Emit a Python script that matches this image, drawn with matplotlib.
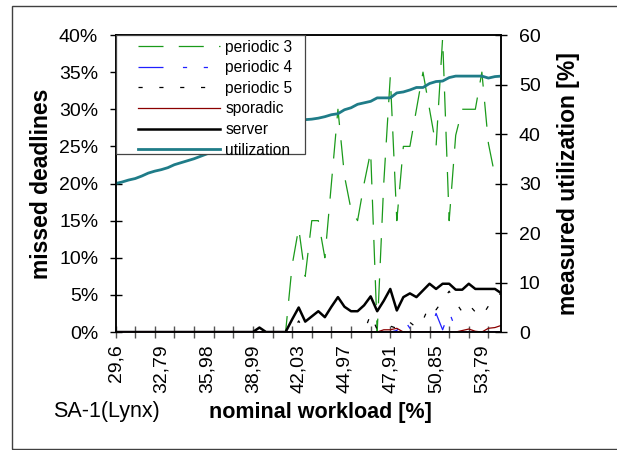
import matplotlib
matplotlib.use('Agg')
import matplotlib.pyplot as plt
from matplotlib.patches import Rectangle
from matplotlib.ticker import PercentFormatter, MultipleLocator

plt.rcParams['font.family'] = ['Liberation Sans', 'DejaVu Sans']
plt.rcParams['lines.scale_dashes'] = False

# category axis: 60 workload steps, only every 7th one is labelled
x_labels = ['29,6', '32,79', '35,98', '38,99', '42,03', '44,97', '47,91', '50,85', '53,79']
label_idx = [0, 7, 14, 21, 28, 35, 42, 49, 56]

# missed deadlines [%]
periodic3 = [0] * 26 + [0, 9, 14, 7.5, 15, 15, 10, 20, 30, 21, 16.5, 15, 20, 24.3, 0, 20, 34.4, 15,
                        25, 25, 30, 35, 30, 25, 39.6, 15, 26.5, 30, 30, 30, 35, 25.4, 21, 21]
periodic4 = [0] * 43 + [0.2, 1.8, 0.5, 0, 0, 0, 2.5, 0.3, 2.7, 0.4, 0, 0, 0, 0, 0, 0, 0]
periodic5 = [0] * 28 + [1.5] + [0] * 10 + [2.4, 0.3, 0.2, 0.8, 0.5, 0.8, 1.3, 0.6, 1.6, 3.6, 3.0,
                                          4.2, 5.5, 4.0, 2.7, 3.7, 2.7, 2.1, 3.5, 4.8, 5.2]
sporadic = [0] * 41 + [0.3, 0.3, 0.5, 0, 0, 0, 0, 0, 0, 0, 0, 0, 0.2, 0.4, 0.1, 0, 0.5, 0.6, 0.9]
server = [0] * 22 + [0.6, 0, 0, 0, 0, 1.7, 3.3, 1.4, 2.1, 2.8, 2.0, 3.4, 4.7, 3.4, 2.8, 2.8, 3.6, 4.8,
                     2.8, 4.2, 5.8, 2.9, 4.7, 5.2, 4.7, 5.6, 6.5, 5.8, 6.5, 6.5, 5.7, 5.7, 6.5, 5.8,
                     5.8, 5.8, 5.8, 5.2]
other = [0] * 60

# measured utilization [%] (right axis)
utilization = [30.0, 30.3, 30.7, 31.0, 31.5, 32.1, 32.5, 32.8, 33.2, 33.8,
               34.2, 34.6, 35.0, 35.5, 36.0, 36.5, 37.0, 37.5, 38.0, 38.5,
               39.0, 39.5, 40.0, 40.5, 41.0, 41.5, 42.0, 42.4, 42.7, 42.9,
               43.0, 43.2, 43.5, 43.9, 44.1, 44.9, 45.3, 46.0, 46.3, 46.6,
               47.3, 47.3, 47.3, 48.3, 48.5, 48.9, 49.4, 49.4, 50.2, 50.6,
               50.7, 51.4, 51.7, 51.7, 51.7, 51.7, 51.7, 51.3, 51.6, 51.7]

x = list(range(len(utilization)))

fig = plt.figure(figsize=(6.17, 4.5), dpi=100)
ax = fig.add_axes([0.1872, 0.2622, 0.6256, 0.66])
ax2 = ax.twinx()

l3, = ax.plot(x, periodic3, color='#1a9a1a', lw=0.9, ls=(0, (18, 11)), label='periodic 3')
l6, = ax.plot(x, server, color='black', lw=1.8, label='server')
ax.plot(x, other, color='#ff00ff', lw=1.3)
l4, = ax.plot(x, periodic4, color='#2020ff', lw=0.9, ls=(0, (18, 14, 3, 12, 3, 12)), label='periodic 4')
l5, = ax.plot(x, periodic5, color='black', lw=0.9, ls=(0, (3, 12)), label='periodic 5')
ls, = ax.plot(x, sporadic, color='#8b0000', lw=0.9, label='sporadic')
lu, = ax2.plot(x, utilization, color='#1f7c88', lw=2.0, label='utilization')

ax.set_xlim(0, len(x) - 1)
ax.set_ylim(0, 40)
ax2.set_ylim(0, 60)
ax.yaxis.set_major_locator(MultipleLocator(5))
ax.yaxis.set_major_formatter(PercentFormatter(decimals=0))
ax2.yaxis.set_major_locator(MultipleLocator(10))

ax.xaxis.remove_overlapping_locs = False
ax.set_xticks(range(0, len(x), 3))
ax.set_xticklabels([])
ax.set_xticks(label_idx, minor=True)
ax.set_xticklabels(x_labels, minor=True, rotation=90)
ax.tick_params(axis='x', which='major', direction='inout', length=8, width=1, color='#555555')
ax.tick_params(axis='x', which='minor', length=0, pad=9, labelsize=14)
ax.tick_params(axis='y', direction='inout', length=9, width=1, pad=8, labelsize=14)
ax2.tick_params(axis='y', direction='inout', length=9, width=1, pad=8, labelsize=14)

for a in (ax, ax2):
    for sp in a.spines.values():
        sp.set_linewidth(1.1)

ax.set_ylabel('missed deadlines', fontsize=16.5, fontweight='bold')
ax.yaxis.set_label_coords(-0.162, 0.5)
ax2.set_ylabel('measured utilization [%]', fontsize=16.5, fontweight='bold')
ax2.yaxis.set_label_coords(1.145, 0.5)
ax.set_xlabel('nominal workload [%]', fontsize=15.5, fontweight='bold')
ax.xaxis.set_label_coords(0.53, -0.237)
fig.text(53 / 617, 1 - 412 / 450, 'SA-1(Lynx)', fontsize=15.5, ha='left', va='center')

# legend box covering the lines, legend itself drawn without frame
ax2.add_patch(Rectangle((0, 0.599), 0.491, 0.401, transform=ax2.transAxes,
                        facecolor='white', edgecolor='#444444', lw=0.9, zorder=4.5))
ax2.legend(handles=[l3, l4, l5, ls, l6, lu], loc='upper left', bbox_to_anchor=(0.045, 1.0),
           frameon=False, fontsize=11.2, borderpad=0.3, borderaxespad=0,
           handlelength=5.3, handletextpad=0.35, labelspacing=0.36)

fig.add_artist(Rectangle((12 / 617, 1 / 450), 1.0, 443 / 450, transform=fig.transFigure,
                         fill=False, edgecolor='#404040', lw=1.0))

fig.savefig('out.png', dpi=100)
